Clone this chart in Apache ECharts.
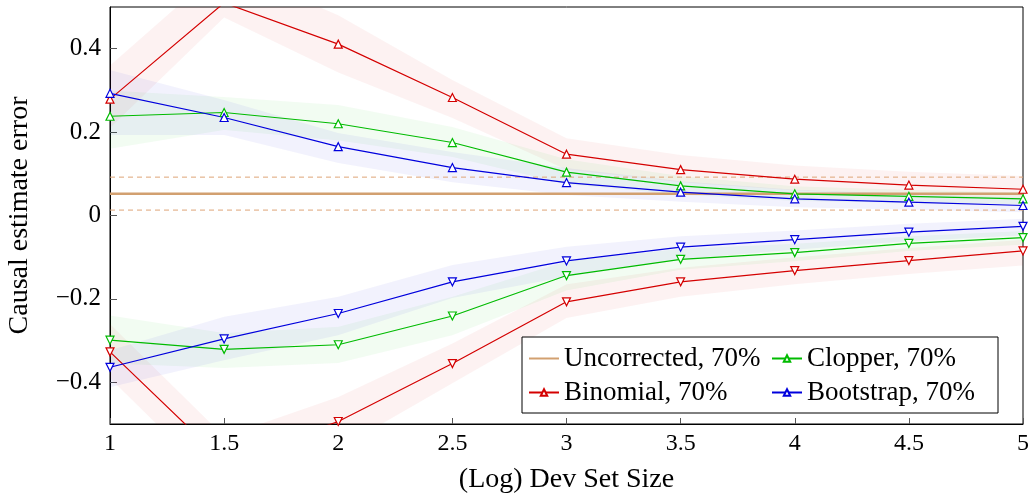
<!DOCTYPE html>
<html>
<head>
<meta charset="utf-8">
<script src="https://cdn.jsdelivr.net/npm/echarts@6/dist/echarts.min.js"></script>
<style>
html,body{margin:0;padding:0;background:#fff;}
#chart{width:1033px;height:495px;}
</style>
</head>
<body>
<div id="chart"></div>
<script>
// ---- data ----
const xs = [1, 1.5, 2, 2.5, 3, 3.5, 4, 4.5, 5];
const xTicks = [1, 1.5, 2, 2.5, 3, 3.5, 4, 4.5, 5];
const yTicks = [-0.4, -0.2, 0, 0.2, 0.4];

const uncorrected   = [0.052, 0.052, 0.052, 0.052, 0.052, 0.052, 0.052, 0.052, 0.052];
const uncorrectedHi = [0.092, 0.092, 0.092, 0.092, 0.092, 0.092, 0.092, 0.092, 0.092];
const uncorrectedLo = [0.013, 0.013, 0.013, 0.013, 0.013, 0.013, 0.013, 0.013, 0.013];

const binomialUp     = [0.279, 0.51, 0.411, 0.283, 0.147, 0.110, 0.087, 0.073, 0.063];
const binomialUpLo   = [0.21, 0.475, 0.343, 0.234, 0.11, 0.08, 0.06, 0.05, 0.04];
const binomialUpHi   = [0.36, 0.60, 0.48, 0.325, 0.185, 0.145, 0.12, 0.105, 0.095];
const binomialDown   = [-0.327, -0.59, -0.494, -0.355, -0.207, -0.159, -0.132, -0.108, -0.085];
const binomialDownLo = [-0.39, -0.66, -0.56, -0.402, -0.246, -0.195, -0.165, -0.14, -0.12];
const binomialDownHi = [-0.26, -0.53, -0.435, -0.307, -0.165, -0.125, -0.10, -0.078, -0.058];

const clopperUp     = [0.238, 0.247, 0.220, 0.175, 0.104, 0.071, 0.052, 0.046, 0.040];
const clopperUpLo   = [0.16, 0.205, 0.18, 0.14, 0.075, 0.05, 0.035, 0.03, 0.027];
const clopperUpHi   = [0.30, 0.284, 0.265, 0.212, 0.135, 0.095, 0.07, 0.062, 0.055];
const clopperDown   = [-0.299, -0.321, -0.310, -0.241, -0.144, -0.105, -0.089, -0.067, -0.053];
const clopperDownLo = [-0.355, -0.366, -0.354, -0.287, -0.18, -0.13, -0.11, -0.085, -0.07];
const clopperDownHi = [-0.24, -0.282, -0.267, -0.195, -0.11, -0.08, -0.068, -0.05, -0.037];

const bootstrapUp     = [0.293, 0.235, 0.165, 0.115, 0.079, 0.056, 0.040, 0.032, 0.024];
const bootstrapUpLo   = [0.193, 0.193, 0.126, 0.08, 0.049, 0.033, 0.02, 0.014, 0.008];
const bootstrapUpHi   = [0.349, 0.277, 0.198, 0.152, 0.114, 0.082, 0.062, 0.052, 0.042];
const bootstrapDown   = [-0.364, -0.296, -0.235, -0.159, -0.109, -0.076, -0.058, -0.040, -0.026];
const bootstrapDownLo = [-0.412, -0.347, -0.287, -0.198, -0.147, -0.105, -0.082, -0.062, -0.048];
const bootstrapDownHi = [-0.323, -0.243, -0.195, -0.119, -0.075, -0.05, -0.036, -0.02, -0.008];

const NAMES = ['Uncorrected, 70%', 'Clopper, 70%', 'Binomial, 70%', 'Bootstrap, 70%'];
const C_UNC = '#d2a070', C_UNC_D = '#dea477';
const C_RED = '#d40000', C_GREEN = '#00bb00', C_BLUE = '#0000dd';
const FONT = 'Liberation Serif';

// ---- build ----
const pairs = arr => xs.map((x, i) => [x, arr[i]]);
let bandId = 0;
function band(lo, hi, color) {
  const id = 'band' + (bandId++);
  return {
    type: 'custom', name: id, silent: true, z: 1,
    data: xs.map((x, i) => [x, lo[i], hi[i]]),
    encode: { x: 0, y: [1, 2] },
    renderItem: function (params, api) {
      if (params.dataIndex !== 0) return null;
      const pts = [];
      for (let i = 0; i < xs.length; i++) pts.push(api.coord([xs[i], hi[i]]));
      for (let i = xs.length - 1; i >= 0; i--) pts.push(api.coord([xs[i], lo[i]]));
      const cs = params.coordSys;
      return {
        type: 'polygon', shape: { points: pts },
        style: { fill: color, opacity: 0.05 },
        clipPath: { type: 'rect', shape: { x: cs.x, y: cs.y, width: cs.width, height: cs.height } }
      };
    }
  };
}
function curve(name, arr, color, down) {
  return { type: 'line', name: name, data: pairs(arr), z: 5,
    symbol: 'triangle', symbolSize: 8, symbolRotate: down ? 180 : 0,
    lineStyle: { color: color, width: 1.2 },
    itemStyle: { color: '#fff', borderColor: color, borderWidth: 1.2 } };
}

const series = [
  band(binomialUpLo, binomialUpHi, C_RED),
  band(binomialDownLo, binomialDownHi, C_RED),
  band(clopperUpLo, clopperUpHi, C_GREEN),
  band(clopperDownLo, clopperDownHi, C_GREEN),
  band(bootstrapUpLo, bootstrapUpHi, C_BLUE),
  band(bootstrapDownLo, bootstrapDownHi, C_BLUE),
  { type: 'line', name: 'uncHi', data: pairs(uncorrectedHi), symbol: 'none', silent: true, z: 3,
    lineStyle: { color: C_UNC_D, width: 1, type: [5, 4] } },
  { type: 'line', name: 'uncLo', data: pairs(uncorrectedLo), symbol: 'none', silent: true, z: 3,
    lineStyle: { color: C_UNC_D, width: 1, type: [5, 4] } },
  { type: 'line', name: NAMES[0], data: pairs(uncorrected), symbol: 'none', z: 4,
    lineStyle: { color: C_UNC, width: 2.5 }, itemStyle: { color: C_UNC } },
  curve(NAMES[2], binomialUp, C_RED, false),
  curve(NAMES[2], binomialDown, C_RED, true),
  curve(NAMES[1], clopperUp, C_GREEN, false),
  curve(NAMES[1], clopperDown, C_GREEN, true),
  curve(NAMES[3], bootstrapUp, C_BLUE, false),
  curve(NAMES[3], bootstrapDown, C_BLUE, true)
];

const fmtY = v => v === 0 ? '0' : (v < 0 ? '\u2212' + String(Math.abs(v)) : String(v));

const option = {
  animation: false,
  textStyle: { fontFamily: FONT },
  grid: { left: 110, right: 10, top: 7, bottom: 71, outerBoundsMode: 'none', containLabel: false,
          show: true, borderColor: '#000', borderWidth: 1, backgroundColor: 'transparent' },
  xAxis: {
    type: 'value', min: 1, max: 5, interval: 0.5,
    name: '(Log) Dev Set Size', nameLocation: 'middle', nameGap: 42,
    nameTextStyle: { fontFamily: FONT, fontSize: 28, color: '#000' },
    axisLine: { show: true, onZero: false, lineStyle: { color: '#000', width: 1 } },
    axisTick: { show: true, inside: true, length: 6, lineStyle: { color: '#555' }, customValues: xTicks },
    axisLabel: { fontFamily: FONT, fontSize: 24, color: '#000', margin: 8, customValues: xTicks, formatter: v => String(v) },
    splitLine: { show: false }
  },
  yAxis: {
    type: 'value', min: -0.5, max: 0.5,
    name: 'Causal estimate error', nameLocation: 'middle', nameGap: 76, nameRotate: 90,
    nameTextStyle: { fontFamily: FONT, fontSize: 28, color: '#000' },
    axisLine: { show: true, onZero: false, lineStyle: { color: '#000', width: 1 } },
    axisTick: { show: true, inside: true, length: 7, lineStyle: { color: '#555' }, customValues: yTicks },
    axisLabel: { fontFamily: FONT, fontSize: 25, color: '#000', margin: 9, customValues: yTicks, formatter: fmtY },
    splitLine: { show: false }
  },
  legend: {
    data: [
      { name: NAMES[0], textStyle: { width: 200 }, itemStyle: { opacity: 0 } },
      { name: NAMES[1], textStyle: { width: 182 } },
      { name: NAMES[2], textStyle: { width: 200 } },
      { name: NAMES[3], textStyle: { width: 182 } }
    ],
    left: 522, top: 337, width: 470,
    orient: 'horizontal',
    itemWidth: 30, itemHeight: 8, itemGap: 7,
    padding: [8, 9, 7, 6],
    backgroundColor: '#fff', borderColor: '#000', borderWidth: 1, borderRadius: 0,
    textStyle: { fontFamily: FONT, fontSize: 27, color: '#000', lineHeight: 25 }
  },
  series: series
};

const chart = echarts.init(document.getElementById('chart'), null, { renderer: 'canvas' });
chart.setOption(option);
</script>
</body>
</html>
